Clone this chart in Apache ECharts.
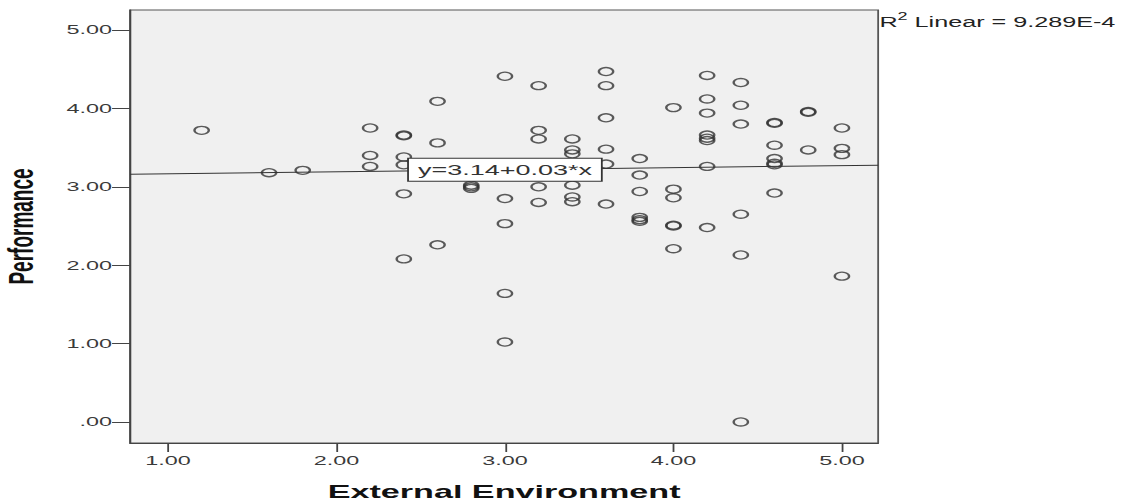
<!DOCTYPE html>
<html>
<head>
<meta charset="utf-8">
<script src="https://cdn.jsdelivr.net/npm/echarts@6/dist/echarts.min.js"></script>
<style>
  html, body { margin: 0; padding: 0; background: #ffffff; overflow: hidden; }
  #wrap { width: 1124px; height: 504px; overflow: hidden; }
  #chart { width: 625px; height: 504px; transform-origin: 0 0; transform: scaleX(1.7984); }
</style>
</head>
<body>
<div id="wrap"><div id="chart"></div></div>
<script>
// ---- data ----
const externalEnvironment = [
  1.2,
  1.6,
  1.8,
  2.2, 2.2, 2.2,
  2.4, 2.4, 2.4, 2.4, 2.4, 2.4,
  2.6, 2.6, 2.6,
  2.8, 2.8, 2.8,
  3.0, 3.0, 3.0, 3.0, 3.0,
  3.2, 3.2, 3.2, 3.2, 3.2,
  3.4, 3.4, 3.4, 3.4, 3.4, 3.4,
  3.6, 3.6, 3.6, 3.6, 3.6, 3.6,
  3.8, 3.8, 3.8, 3.8, 3.8, 3.8,
  4.0, 4.0, 4.0, 4.0, 4.0, 4.0,
  4.2, 4.2, 4.2, 4.2, 4.2, 4.2, 4.2, 4.2,
  4.4, 4.4, 4.4, 4.4, 4.4, 4.4,
  4.6, 4.6, 4.6, 4.6, 4.6, 4.6, 4.6,
  4.8, 4.8, 4.8,
  5.0, 5.0, 5.0, 5.0
];
const performance = [
  3.72,
  3.18,
  3.21,
  3.75, 3.40, 3.26,
  3.66, 3.65, 3.38, 3.28, 2.91, 2.08,
  4.09, 3.56, 2.26,
  3.02, 3.00, 2.98,
  4.41, 2.85, 2.53, 1.64, 1.02,
  4.29, 3.72, 3.61, 3.00, 2.80,
  3.61, 3.47, 3.42, 3.02, 2.87, 2.81,
  4.47, 4.29, 3.88, 3.48, 3.29, 2.78,
  3.36, 3.15, 2.94, 2.61, 2.58, 2.56,
  4.01, 2.97, 2.86, 2.51, 2.50, 2.21,
  4.42, 4.12, 3.94, 3.66, 3.62, 3.59, 3.26, 2.48,
  4.33, 4.04, 3.80, 2.65, 2.13, 0.00,
  3.82, 3.81, 3.53, 3.36, 3.30, 3.28, 2.92,
  3.96, 3.95, 3.47,
  3.75, 3.49, 3.41, 1.86
];
const xTicks = [1, 2, 3, 4, 5];
const yTicks = [0, 1, 2, 3, 4, 5];
const fitIntercept = 3.14;
const fitSlope = 0.026;
const equationText = 'y=3.14+0.03*x';
const equationAtX = 3.0;
const rSquaredText = '9.289E-4';
const xTitle = 'External Environment';
const yTitle = 'Performance';

// ---- axis extents ----
const xMin = 0.775, xMax = 5.215;
const yMin = -0.268, yMax = 5.255;

const points = externalEnvironment.map((x, i) => [x, performance[i]]);
const fit = x => fitIntercept + fitSlope * x;
const fitLine = [[xMin, fit(xMin)], [xMax, fit(xMax)]];

const FONT = '"Liberation Sans", Arial, sans-serif';
const fmt = v => {
  const s = Number(v).toFixed(2);
  return s.startsWith('0.') ? s.slice(1) : s;
};

const chart = echarts.init(document.getElementById('chart'), null, { renderer: 'svg' });
chart.setOption({
  animation: false,
  backgroundColor: '#ffffff',
  title: {
    left: 489, top: 12, padding: 0,
    text: '{a|R}{sup|2}{a| Linear = ' + rSquaredText + '}',
    textStyle: {
      fontWeight: 'normal',
      rich: {
        a: { fontFamily: FONT, fontSize: 14, fontWeight: 'normal', color: '#222', lineHeight: 17, verticalAlign: 'bottom' },
        sup: { fontFamily: FONT, fontSize: 10, fontWeight: 'normal', color: '#222', lineHeight: 17, verticalAlign: 'top', padding: [0, 0, 6, 0] }
      }
    }
  },
  grid: {
    left: 72.3, right: 136.7, top: 10, bottom: 61,
    outerBoundsMode: 'none', containLabel: false,
    show: true, backgroundColor: '#f0f0f0', borderColor: '#555', borderWidth: 1
  },
  xAxis: {
    type: 'value', min: xMin, max: xMax,
    name: xTitle, nameLocation: 'middle', nameGap: 39,
    nameTextStyle: { fontFamily: FONT, fontSize: 19, fontWeight: 'bold', color: '#111' },
    splitLine: { show: false },
    axisLine: { show: true, onZero: false, lineStyle: { color: '#444', width: 1 } },
    axisTick: { show: true, customValues: xTicks, length: 9, lineStyle: { color: '#444', width: 1 } },
    axisLabel: { customValues: xTicks, formatter: fmt, margin: 11, fontFamily: FONT, fontSize: 13, color: '#3a3a3a' }
  },
  yAxis: {
    type: 'value', min: yMin, max: yMax,
    name: yTitle, nameLocation: 'middle', nameGap: 51, nameRotate: 90,
    nameTextStyle: { fontFamily: FONT, fontSize: 19, fontWeight: 'bold', color: '#111' },
    splitLine: { show: false },
    axisLine: { show: true, onZero: false, lineStyle: { color: '#444', width: 1 } },
    axisTick: { show: true, customValues: yTicks, length: 10, lineStyle: { color: '#444', width: 1 } },
    axisLabel: { customValues: yTicks, formatter: fmt, margin: 10, fontFamily: FONT, fontSize: 13, color: '#3a3a3a' }
  },
  series: [
    {
      type: 'line',
      data: fitLine,
      symbol: 'none',
      silent: true,
      lineStyle: { color: '#333', width: 1 },
      markPoint: {
        symbol: 'rect', symbolSize: 0,
        data: [{ coord: [equationAtX, fit(equationAtX)] }],
        label: {
          show: true, position: 'inside', formatter: equationText,
          fontFamily: FONT, fontSize: 15, color: '#333',
          backgroundColor: '#ffffff', borderColor: '#333', borderWidth: 1,
          padding: [4, 5, 3, 5]
        }
      },
      z: 3
    },
    {
      type: 'scatter',
      data: points,
      symbol: 'circle',
      symbolSize: 8,
      itemStyle: { color: 'rgba(0,0,0,0)', borderColor: '#333', borderWidth: 1.3 },
      z: 2
    }
  ]
});
</script>
</body>
</html>
